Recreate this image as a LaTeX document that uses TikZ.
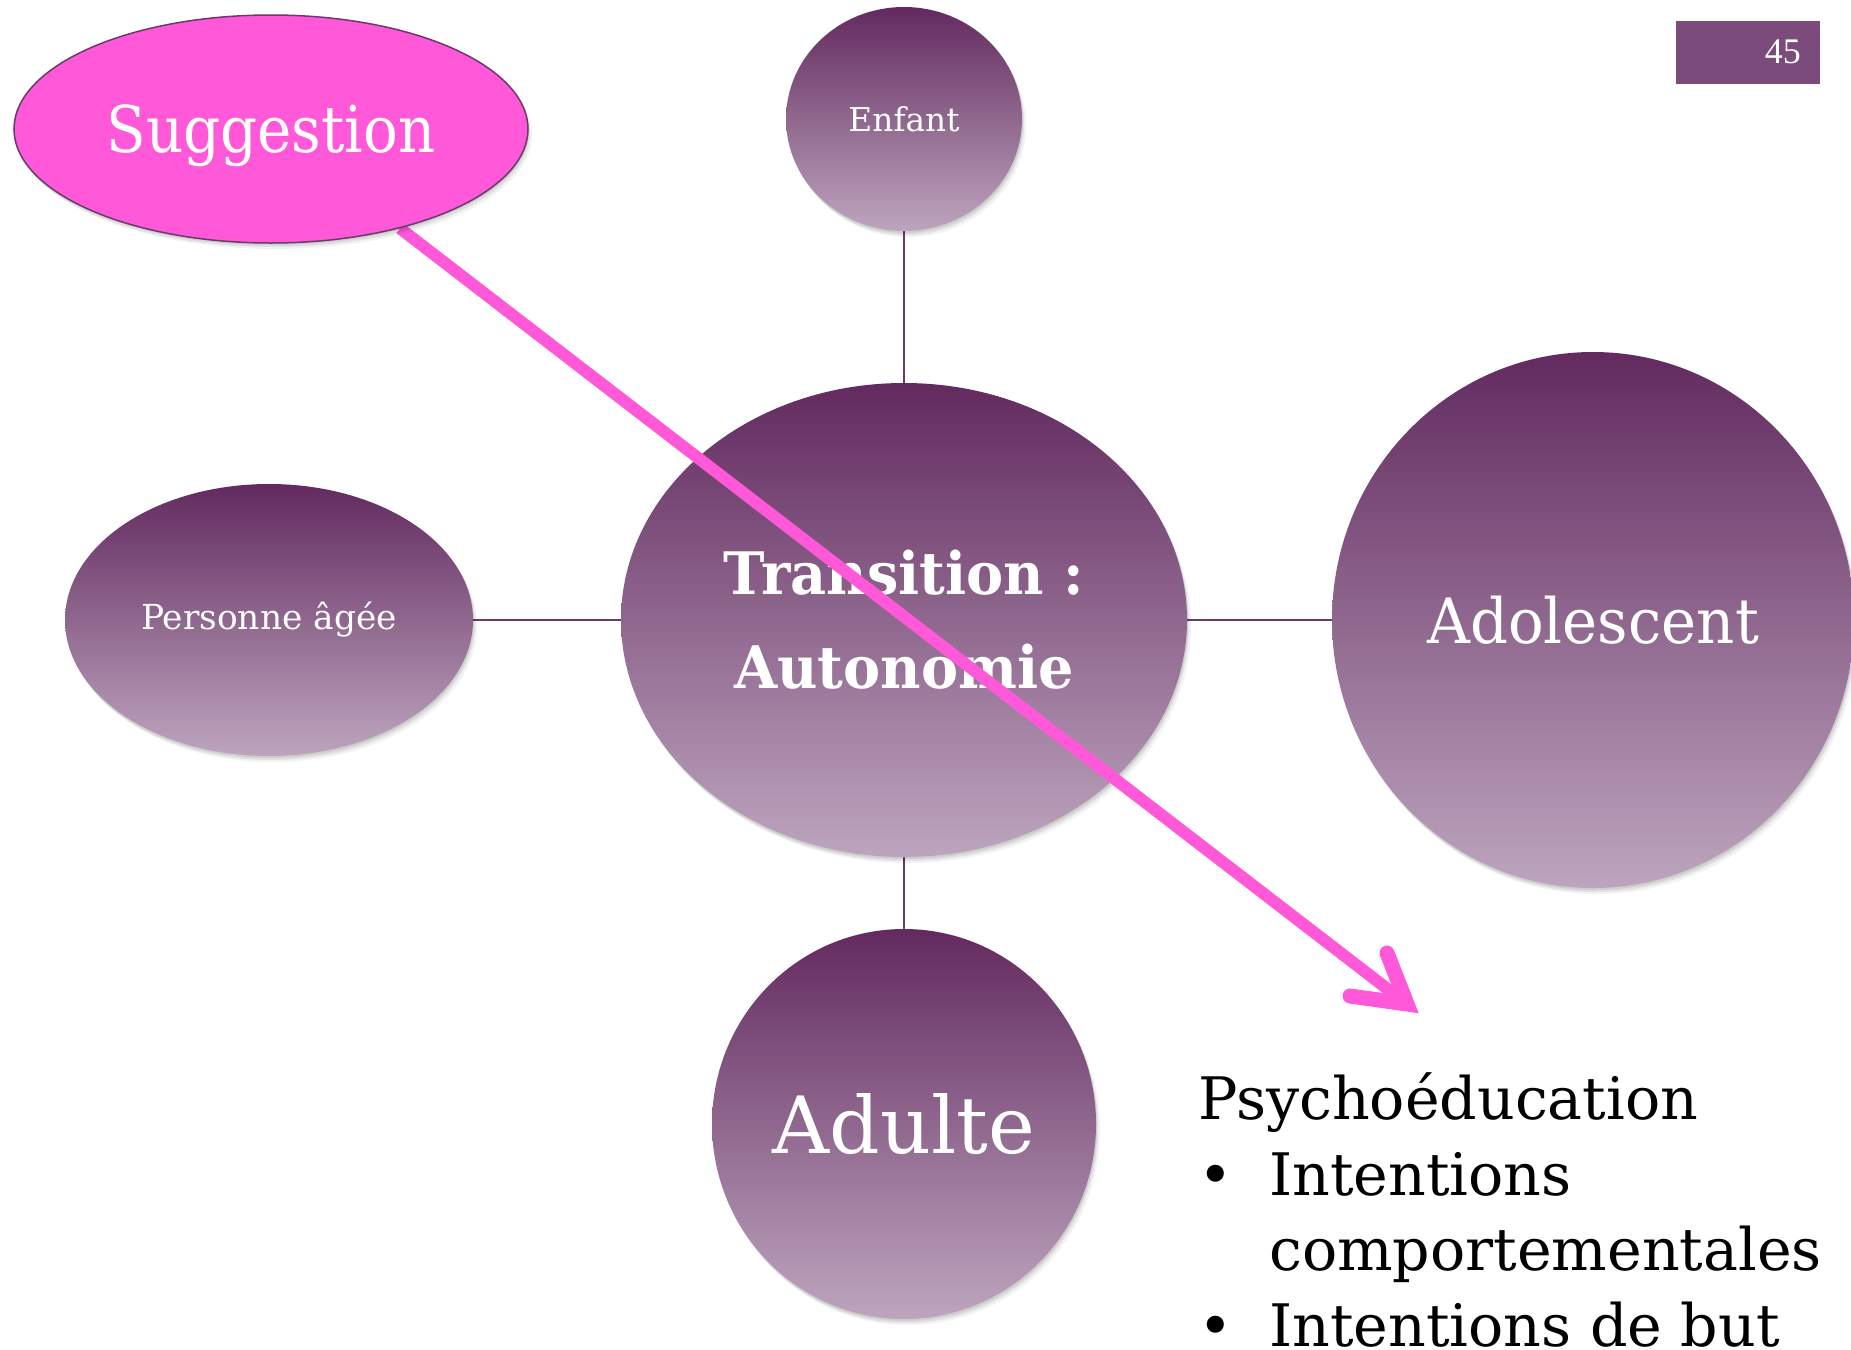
\documentclass[tikz,border=0pt]{standalone}
\usepackage{fontspec}
\setmainfont{DejaVu Serif}
\newfontfamily\slabn[FakeStretch=0.9]{DejaVu Serif}
\newfontfamily\slabm[FakeStretch=0.95]{DejaVu Serif}
\newfontfamily\slabw{DejaVu Serif}
\newfontfamily\pagefont{Liberation Serif}
\usetikzlibrary{shapes.geometric}
\definecolor{plumdark}{HTML}{622A5F}
\definecolor{plumlight}{HTML}{BDA5BE}
\definecolor{plumline}{HTML}{6A3A6A}
\definecolor{plumbox}{HTML}{7B4B7B}
\definecolor{hotpink}{HTML}{FF58D8}
\pgfdeclarelayer{background}
\pgfdeclarelayer{front}
\pgfsetlayers{background,main,front}
\tikzset{
  softshadow/.style={
    preaction={fill=black, fill opacity=0.05, transform canvas={shift={(4pt,-6pt)}}},
    preaction={fill=black, fill opacity=0.07, transform canvas={shift={(2pt,-4pt)}}},
    preaction={fill=black, fill opacity=0.08, transform canvas={shift={(1pt,-2pt)}}}},
  bubble/.style={ellipse, inner sep=0pt, softshadow, top color=plumdark, bottom color=plumlight,
    text=white, align=center},
  link/.style={draw=plumline, line width=2.2pt},
  pinkline/.style={draw=hotpink, line width=12pt},
  barb/.style={draw=hotpink, line width=15pt, line cap=round, line join=miter},
  bodytext/.style={anchor=base west, inner sep=0pt, text=black, font=\slabw\fontsize{58.6}{70}\selectfont},
}
\begin{document}
\begin{tikzpicture}[x=1pt,y=-1pt]
\useasboundingbox (0,0) rectangle (1851,1349);

% page number tab
\node[fill=plumbox, minimum width=144pt, minimum height=63pt, inner sep=0pt] (pagebox) at (1748,52) {};
\node[text=white, font=\pagefont\fontsize{36}{40}\selectfont, anchor=east, inner sep=0pt] (pagenum) at (1801,52) {45};

% life-stage bubbles
\node[bubble, minimum width=566pt, minimum height=474pt, font=\slabm\bfseries\fontsize{58.6}{94}\selectfont] (center) at (904,620) {Transition :\\Autonomie};
\node[bubble, minimum width=236pt, minimum height=224pt, font=\slabw\fontsize{32.8}{36}\selectfont] (enfant) at (904,119) {Enfant};
\node[bubble, minimum width=408pt, minimum height=272pt, font=\slabw\fontsize{34.4}{38}\selectfont] (agee) at (269,620) {Personne âgée};
\node[bubble, minimum width=522pt, minimum height=536pt, font=\slabm\fontsize{62.5}{70}\selectfont] (ado) at (1593,620) {Adolescent};
\node[bubble, minimum width=384pt, minimum height=390pt, font=\slabw\fontsize{79}{90}\selectfont] (adulte) at (904,1124) {Adulte};

\begin{pgfonlayer}{background}
  \fill[white] (0,0) rectangle (1851,1349);
  \draw[link] (enfant.south) -- (center.north);
  \draw[link] (agee.east) -- (center.west);
  \draw[link] (center.east) -- (ado.west);
  \draw[link] (center.south) -- (adulte.north);
\end{pgfonlayer}

% suggestion bubble
\begin{pgfonlayer}{front}
\node[ellipse, inner sep=0pt, minimum width=514pt, minimum height=228pt, softshadow, fill=hotpink, draw=plumline, line width=1.5pt,
  text=white, text depth=0pt, font=\slabn\fontsize{64.4}{70}\selectfont] (sugg) at (271,129) {Suggestion};
\end{pgfonlayer}

% pink arrow
\coordinate (tipv) at (1407,1004);
\coordinate (barbA) at (1387,953);
\coordinate (barbB) at (1350,996);
\draw[pinkline] (sugg) -- (tipv);
\draw[barb] (barbA) -- (tipv) -- (barbB);

% text block
\node[bodytext] (psy) at (1198,1119) {Psychoéducation};
\node[bodytext] (dot1) at (1198,1195) {•};
\node[bodytext] (int1) at (1269,1195) {Intentions};
\node[bodytext] (comp) at (1269,1270) {comportementales};
\node[bodytext] (dot2) at (1198,1346) {•};
\node[bodytext] (int2) at (1269,1346) {Intentions de but};
\end{tikzpicture}
\end{document}
